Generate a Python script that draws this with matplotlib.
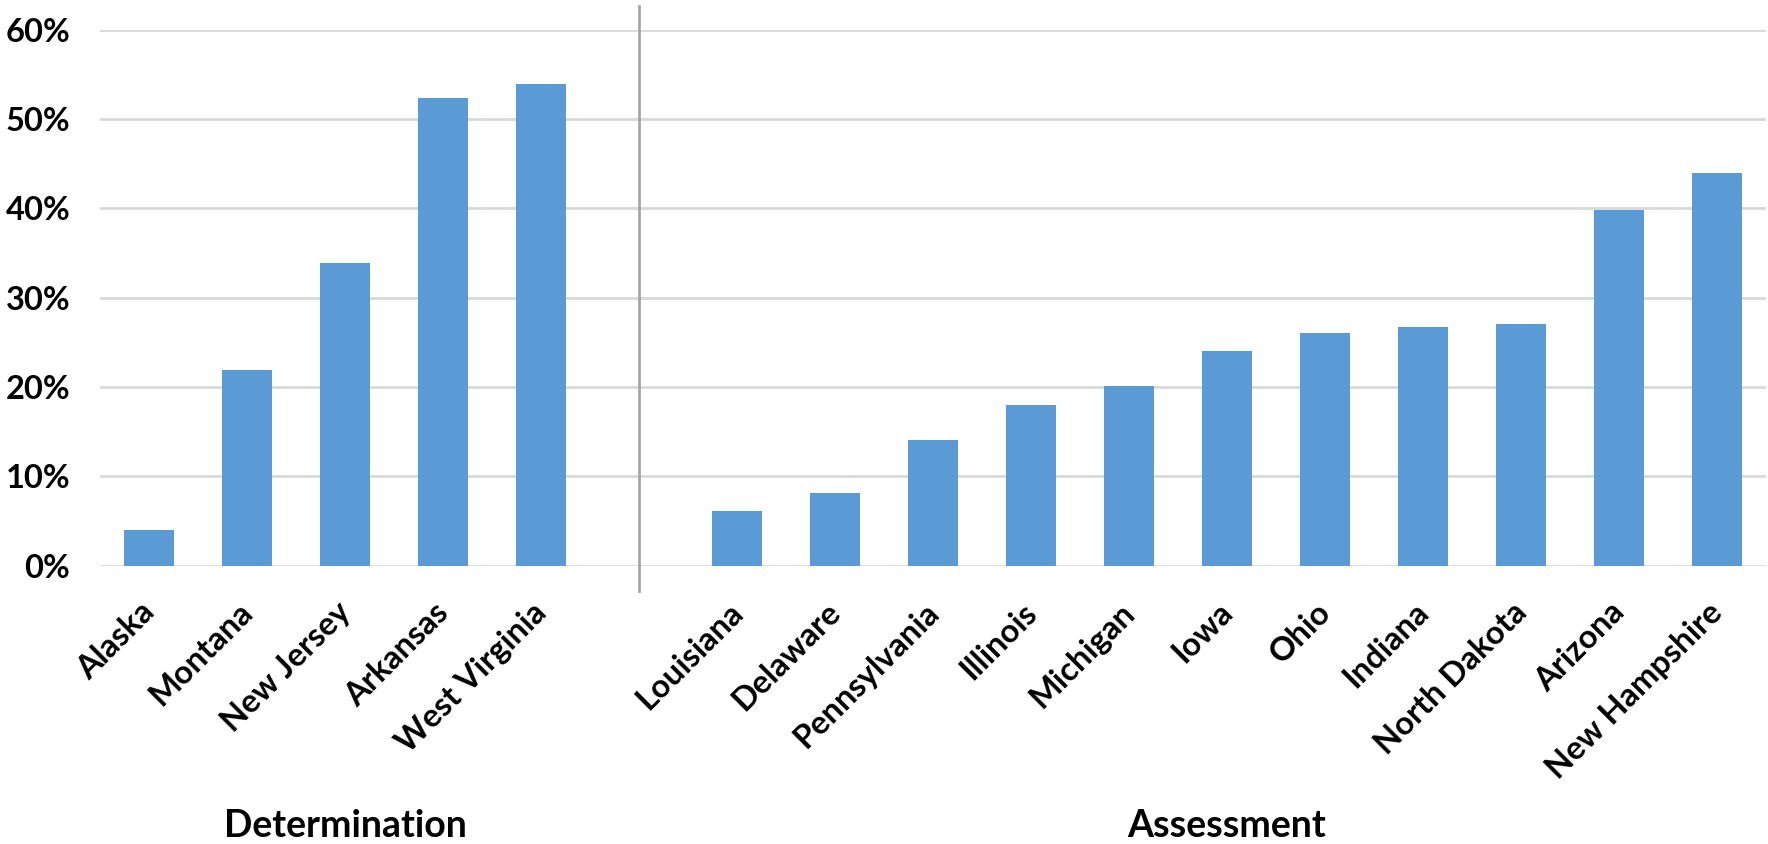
import matplotlib.pyplot as plt
from matplotlib.ticker import FuncFormatter

plt.rcParams['font.family'] = ['Lato', 'DejaVu Sans']
plt.rcParams['font.weight'] = 'bold'

## Data

determination_states = ['Alaska', 'Montana', 'New Jersey', 'Arkansas', 'West Virginia']
determination_values = [4.0, 21.9, 33.9, 52.4, 53.9]

assessment_states = ['Louisiana', 'Delaware', 'Pennsylvania', 'Illinois', 'Michigan', 'Iowa',
                     'Ohio', 'Indiana', 'North Dakota', 'Arizona', 'New Hampshire']
assessment_values = [6.1, 8.1, 14.1, 18.0, 20.1, 24.0, 26.1, 26.7, 27.0, 39.8, 44.0]

group_names = ['Determination', 'Assessment']
yticks = [0, 10, 20, 30, 40, 50, 60]

## Layout

W, H = 1768, 844
fig = plt.figure(figsize=(W / 100, H / 100), dpi=100)
ax = fig.add_axes([100 / W, (H - 565.6) / H, 1666 / W, 535.8 / H])

n_det = len(determination_states)
x_det = list(range(n_det))
x_ass = [n_det + 1 + i for i in range(len(assessment_states))]

blue = '#5B9BD5'
ax.bar(x_det, determination_values, width=0.51, color=blue, zorder=3)
ax.bar(x_ass, assessment_values, width=0.51, color=blue, zorder=3)

ax.set_xlim(-0.5, x_ass[-1] + 0.5)
ax.set_ylim(0, 60)
ax.set_yticks(yticks)
ax.yaxis.set_major_formatter(FuncFormatter(lambda v, p: f'{v:.0f}%'))
ax.tick_params(axis='y', length=0, pad=21.5, labelsize=23.5)
ax.set_xticks([])
ax.grid(axis='y', color='#D9D9D9', linewidth=2, zorder=0)
for sp in ax.spines.values():
    sp.set_visible(False)

# category labels, rotated
for x, name in zip(x_det + x_ass, determination_states + assessment_states):
    ax.annotate(name, xy=(x, 0), xycoords=('data', 'axes fraction'),
                xytext=(1, -42), textcoords='offset pixels',
                rotation=45, rotation_mode='anchor', ha='right', va='center',
                fontsize=23.5, fontweight='bold')

# group separator
ax.plot([n_det, n_det], [-0.047, 1.044], color='#A6A6A6', linewidth=2,
        transform=ax.get_xaxis_transform(), clip_on=False)

# group labels
centers = [sum(x_det) / len(x_det), sum(x_ass) / len(x_ass)]
for c, g in zip(centers, group_names):
    ax.annotate(g, xy=(c, 0), xycoords=('data', 'axes fraction'),
                xytext=(0, -260), textcoords='offset pixels',
                ha='center', va='center', fontsize=27, fontweight='bold')

fig.savefig('out.png', dpi=100)
